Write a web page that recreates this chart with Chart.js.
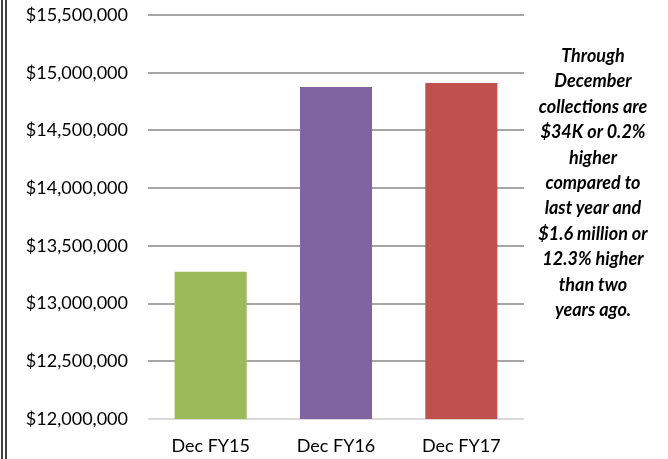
<!DOCTYPE html>
<html>
<head>
<meta charset="utf-8">
<script src="https://cdn.jsdelivr.net/npm/chart.js@4/dist/chart.umd.min.js"></script>
<style>
  html, body { margin: 0; padding: 0; background: #fff; }
  #wrap { position: relative; width: 668px; height: 459px; overflow: hidden; }
  #frame { position: absolute; left: 1px; top: 0; width: 0; height: 459px; border-left: 6px double #404040; }
  #note {
    position: absolute; left: 522px; top: 43px; width: 142px;
    font-family: Lato, "Liberation Sans", sans-serif; font-weight: bold; font-style: italic;
    font-size: 18px; line-height: 25.4px; text-align: center; color: #000;
  }
</style>
</head>
<body>
<div id="wrap">
  <canvas id="chart" width="668" height="459"></canvas>
  <div id="frame"></div>
  <div id="note">Through<br>December<br>collections are<br>$34K or 0.2%<br>higher<br>compared to<br>last year and<br>$1.6 million or<br>12.3% higher<br>than two<br>years ago.</div>
</div>
<script>
var categories = ["Dec FY15", "Dec FY16", "Dec FY17"];
var collections = [13275000, 14877000, 14911000];
var yTicksMin = 12000000;
var yTicksMax = 15500000;
var yTicksStep = 500000;

var barColors = ["#9bbb59", "#8064a2", "#c0504d"];

var ctx = document.getElementById("chart").getContext("2d");
var myChart = new Chart(ctx, {
  type: "bar",
  data: {
    labels: categories,
    datasets: [
      {
        data: collections,
        backgroundColor: barColors,
        borderWidth: 0,
        barPercentage: 0.575,
        categoryPercentage: 1,
      },
    ],
  },
  options: {
    responsive: false,
    animation: false,
    layout: { padding: { top: 15, right: 144, left: 0, bottom: 0 } },
    plugins: { legend: { display: false }, tooltip: { enabled: false } },
    scales: {
      x: {
        grid: { display: false },
        border: { display: false },
        ticks: { color: "#000", padding: 8, font: { family: "Lato", size: 18 } },
        afterFit: function (s) { s.height = 40; },
      },
      y: {
        min: yTicksMin,
        max: yTicksMax,
        border: { display: false },
        grid: {
          drawTicks: false,
          lineWidth: 2,
          color: function (c) { return c.tick && c.tick.value === yTicksMin ? "#d9d9d9" : "#a6a6a6"; },
        },
        ticks: {
          stepSize: yTicksStep,
          padding: 20,
          color: "#000",
          font: { family: "Lato", size: 18 },
          callback: function (v) { return "$" + v.toLocaleString("en-US"); },
        },
        // fixed axis width; drop the extra top/bottom room the tick padding adds
        afterFit: function (s) { s.width = 148; s.paddingTop = 0; s.paddingBottom = 0; },
      },
    },
  },
});
</script>
</body>
</html>
